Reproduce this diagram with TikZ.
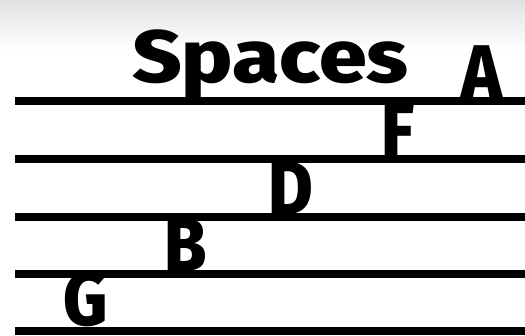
\documentclass[tikz,border=0pt]{standalone}
\usepackage{fontspec}
\setmainfont{Fira Sans}[BoldFont={Fira Sans ExtraBold}]
\tikzset{
  staffline/.style={line width=8pt, line cap=butt},
  note/.style={font=\fontsize{76}{76}\selectfont\bfseries, inner sep=0pt, anchor=base}
}
\begin{document}
\begin{tikzpicture}[x=1pt, y=-1pt]
  \useasboundingbox (0,0) rectangle (525,336);
  \fill[white] (0,0) rectangle (525,336);
  \shade[top color=black!12, bottom color=white] (0,0) rectangle (525,50);
  % title
  \node[font=\fontsize{74}{74}\selectfont\bfseries, inner sep=0pt, anchor=base west]
    (title) at (132,83) {\scalebox{1.16}[1]{Spaces}};
  % staff
  \foreach \y in {101,159,217,274,331}
    \draw[staffline] (15,\y) -- (525,\y);
  % letters in the spaces
  \node[note] (a) at (482,99) {\scalebox{0.9}[1]{A}};
  \node[note] (f) at (398,157) {\scalebox{0.9}[1]{F}};
  \node[note] (d) at (291,215) {\scalebox{0.9}[1]{D}};
  \node[note] (b) at (186,272) {\scalebox{0.9}[1]{B}};
  \node[note] (g) at (86,326) {\scalebox{0.9}[1]{G}};
\end{tikzpicture}
\end{document}
